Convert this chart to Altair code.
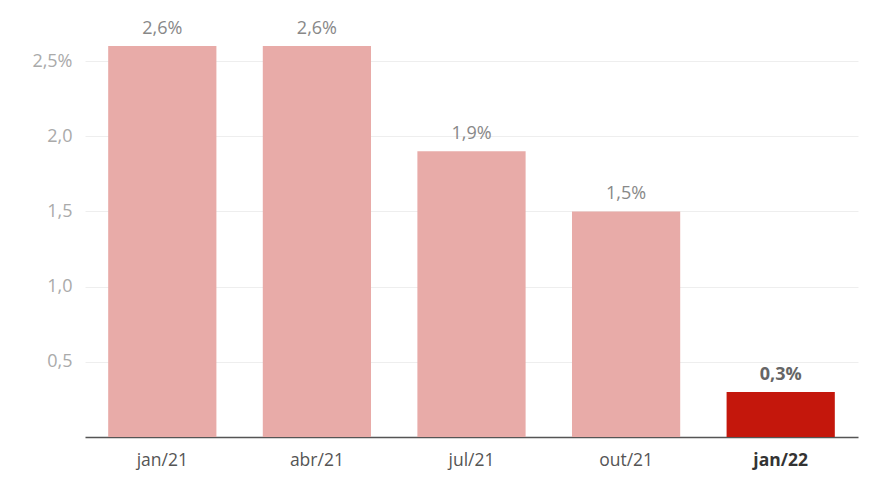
import altair as alt
import pandas as pd

categories = ["jan/21", "abr/21", "jul/21", "out/21", "jan/22"]
values = [2.6, 2.6, 1.9, 1.5, 0.3]
labels = ["2,6%", "2,6%", "1,9%", "1,5%", "0,3%"]
highlight = [False, False, False, False, True]

df = pd.DataFrame({"cat": categories, "val": values, "lab": labels, "hl": highlight})

font = "Open Sans"

x = alt.X("cat:N", sort=categories, title=None,
          scale=alt.Scale(paddingInner=0.3, paddingOuter=0.15),
          axis=alt.Axis(labelAngle=0, ticks=False, domainColor="#555555", domainWidth=1.5,
                        labelFontSize=17.5, labelFont=font, labelPadding=14,
                        labelColor={"condition": {"test": "datum.value == 'jan/22'", "value": "#333333"}, "value": "#555555"},
                        labelFontWeight={"condition": {"test": "datum.value == 'jan/22'", "value": "bold"}, "value": "normal"}))
y = alt.Y("val:Q", title=None,
          scale=alt.Scale(domain=[0, 2.6], nice=False),
          axis=alt.Axis(values=[0.5, 1.0, 1.5, 2.0, 2.5], domain=False, ticks=False,
                        labelFontSize=18, labelFont=font, labelColor="#aaaaaa", labelPadding=13,
                        gridColor="#eeeeee", gridWidth=1,
                        labelExpr="datum.value == 2.5 ? '2,5%' : replace(format(datum.value, '.1f'), '.', ',')"))

bars = alt.Chart(df).mark_bar().encode(
    x=x, y=y,
    color=alt.Color("hl:N", scale=alt.Scale(domain=[False, True], range=["#e8aba8", "#c4170c"]), legend=None),
)

text_normal = alt.Chart(df).transform_filter("!datum.hl").mark_text(
    baseline="bottom", dy=-8, fontSize=18, font=font, color="#888888").encode(
    x=alt.X("cat:N", sort=categories),
    y=alt.Y("val:Q"),
    text="lab:N",
)
text_bold = alt.Chart(df).transform_filter("datum.hl").mark_text(
    baseline="bottom", dy=-8, fontSize=18, font=font, color="#666666", fontWeight="bold").encode(
    x=alt.X("cat:N", sort=categories),
    y=alt.Y("val:Q"),
    text="lab:N",
)

chart = alt.layer(bars, text_normal, text_bold).properties(
    width=773, height=391,
    autosize=alt.AutoSizeParams(type="none"),
    padding={"left": 77, "top": 38, "right": 29, "bottom": 34},
    background="white",
).configure_view(stroke=None, strokeWidth=0)

chart.save("out.html", embed_options={"renderer": "svg", "actions": False})
